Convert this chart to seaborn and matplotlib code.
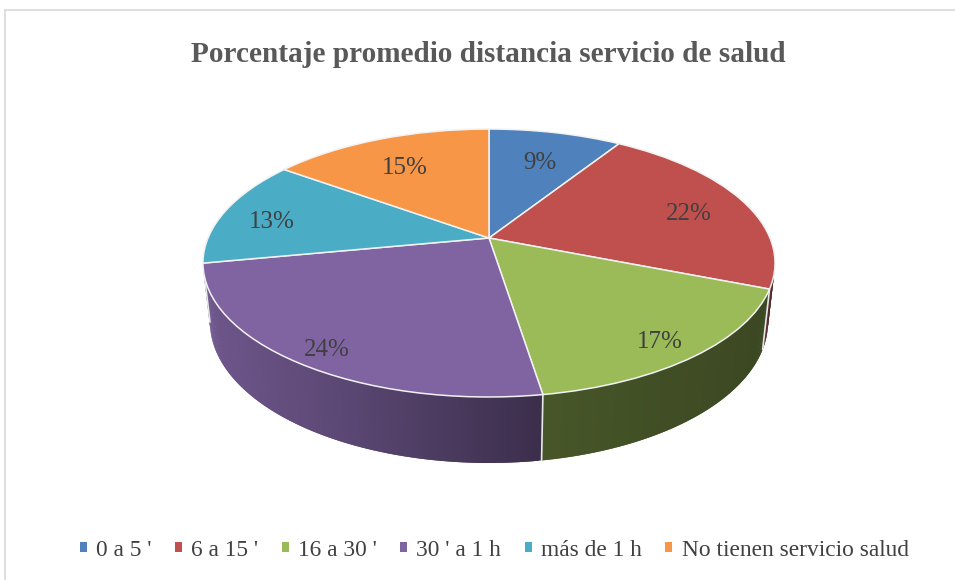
import numpy as np
import matplotlib
matplotlib.use('Agg')
import matplotlib.pyplot as plt
from matplotlib.patches import Patch
from matplotlib.transforms import Transform
import seaborn as sns

# Data
categories = ["0 a 5 '", "6 a 15 '", "16 a 30 '", "30 ' a 1 h", "más de 1 h", "No tienen servicio salud"]
pct_labels = ["9%", "22%", "17%", "24%", "13%", "15%"]
shares = [9, 22, 16.5, 24.5, 13, 15]
colors = ["#4f81bd", "#c0504d", "#9bbb59", "#8064a2", "#4bacc6", "#f79646"]

title = "Porcentaje promedio distancia servicio de salud"

# Layout, in pixels around the centre of the pie
W, H = 955, 580
cx, cy = 489, 238
label_radius = [0.74, 0.78, 0.85, 0.87, 0.82, 0.74]

# Perspective of the tilted disc: unit circle -> ellipse with shifted centre
K, A, C = 281.0, 129.3, 0.1866


def warp(u, v):
    d = 1 + C * v
    return K * u / d, A * v / d


class Tilt(Transform):
    input_dims = 2
    output_dims = 2

    def transform_non_affine(self, values):
        x, y = warp(values[:, 0], values[:, 1])
        return np.column_stack([x, y])


def lower_rim(x, y):
    # bottom disc of the pie, a little narrower and lower
    return x * 279 / 286, (y + 25) * 141 / 134 - 84


sns.set_theme(style="white")
plt.rcParams['font.family'] = ['Liberation Serif', 'DejaVu Serif']

fig = plt.figure(figsize=(W / 100, H / 100), dpi=100)
ax = fig.add_axes([5 / W, 0, (W - 5) / W, (H - 10) / H])

palette = sns.color_palette(colors)

# Side wall, darker towards the right
edges = 360 * np.cumsum([0] + shares) / sum(shares)
vis_start = np.degrees(np.arccos(-C))
vis_end = 360 - vis_start
for i in range(len(shares)):
    start = max(edges[i], vis_start)
    end = min(edges[i + 1], vis_end)
    if end <= start:
        continue
    phis = np.append(np.arange(start, end, 0.5), end)
    for j in range(len(phis) - 1):
        # each strip runs into the next one so no seams show
        t = np.radians(phis[j:j + 3])
        x1, y1 = warp(np.sin(t), np.cos(t))
        x2, y2 = lower_rim(x1, y1)
        shade = np.interp(x1[0], [-286, -150, 40, 60, 286], [0.86, 0.72, 0.48, 0.46, 0.38])
        col = tuple(c * shade for c in palette[i])
        ax.fill(np.r_[x1, x2[::-1]], np.r_[y1, y2[::-1]], color=col, lw=0, zorder=1 + j * 1e-4)

for e in edges:
    if vis_start < e < vis_end:
        t = np.radians(e)
        x1, y1 = warp(np.sin(t), np.cos(t))
        x2, y2 = lower_rim(x1, y1)
        ax.plot([x1, x2], [y1, y2], color='#e8e8e8', lw=1.2, zorder=2)

wedges, _ = ax.pie(shares, colors=palette, startangle=90, counterclock=False,
                   wedgeprops=dict(edgecolor='#f2f2f2', linewidth=1.1, zorder=3))
tilt = Tilt() + ax.transData
for w in wedges:
    w.set_transform(tilt)

# Percent labels
mids = np.radians((edges[:-1] + edges[1:]) / 2)
for lab, r, m in zip(pct_labels, label_radius, mids):
    lx, ly = warp(r * np.sin(m), r * np.cos(m))
    ax.text(lx, ly - 6, lab, ha='center', va='center', fontsize=18, color='#404040', zorder=4)

ax.set_aspect('auto')
ax.set_xlim(5 - cx, W - cx)
ax.set_ylim(cy - H, cy - 10)

ax.set_frame_on(True)
for side in ['right', 'bottom']:
    ax.spines[side].set_visible(False)
for side in ['left', 'top']:
    ax.spines[side].set_color('#d9d9d9')
    ax.spines[side].set_linewidth(1.2)

fig.text(488 / W, 1 - 54 / H, title, ha='center', va='center',
         fontsize=21.1, fontweight='bold', color='#595959')

handles = [Patch(facecolor=c, edgecolor='none') for c in palette]
leg = ax.legend(handles, categories, ncol=6, loc='center', bbox_to_anchor=(0.5148, (H - 550) / (H - 10)),
                frameon=False, fontsize=16.8, labelcolor='#404040', handlelength=0.3, handleheight=0.3,
                handletextpad=0.4, columnspacing=1.0, borderpad=0)

fig.savefig('out.png', dpi=100)
